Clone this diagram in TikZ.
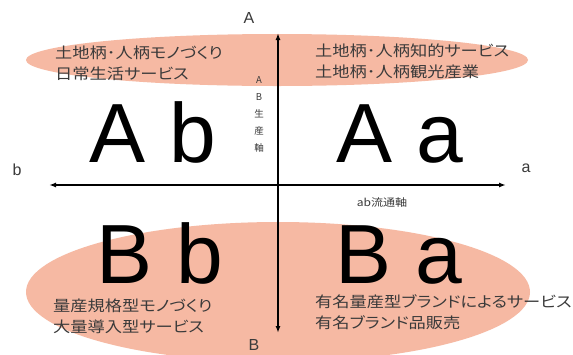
\documentclass[tikz,border=0pt]{standalone}
\usepackage{fontspec}
\setmainfont{Liberation Sans}
\newfontfamily\jp[FakeStretch=1.15, RawFeature=+palt]{Noto Sans CJK JP}
\newfontfamily\jpn{Noto Sans CJK JP}
\usetikzlibrary{arrows.meta}
\definecolor{salmon}{HTML}{F6B9A3}
\definecolor{txt}{HTML}{3A3A3A}
\tikzset{
  blob/.style={fill=salmon, draw=none},
  axis/.style={line width=1.8pt, -{Latex[length=7pt,width=5pt]}, draw=black},
  big/.style={font=\fontsize{84}{84}\selectfont, text=black, inner sep=0pt, anchor=base, text height=60pt, text depth=0pt},
  axlabel/.style={font=\fontsize{16}{16}\selectfont, text=txt, inner sep=0pt},
  jptext/.style={font=\jp\fontsize{15}{21}\selectfont, text=txt, align=left, anchor=west, inner sep=0pt},
  small/.style={font=\jpn\fontsize{9.5}{17}\selectfont, text=txt, inner sep=0pt, align=center},
  smallh/.style={font=\jp\fontsize{10.5}{12}\selectfont, text=txt, inner sep=0pt}
}
\begin{document}
\begin{tikzpicture}[x=1pt,y=-1pt]
\useasboundingbox (0,0) rectangle (573,354);
\fill[white] (0,0) rectangle (573,354);
% blobs
\fill[blob] (277,60) ellipse [x radius=251, y radius=26];
\fill[blob] (278,292) ellipse [x radius=252, y radius=70];
% axes
\coordinate (o) at (278,185);
\coordinate (top) at (278,33);
\coordinate (bot) at (278,333);
\coordinate (lft) at (49,185);
\coordinate (rgt) at (506,185);
\draw[axis] (o) -- (top);
\draw[axis] (o) -- (bot);
\draw[axis] (o) -- (lft);
\draw[axis] (o) -- (rgt);
% axis labels
\node[axlabel] (lA) at (249,18) {A};
\node[axlabel] (lB) at (254,345) {B};
\node[axlabel] (lb) at (17,170) {b};
\node[axlabel] (la) at (526,168) {a};
\node[small] (ab) at (259,114) {A\\B\\生\\産\\軸};
\node[smallh] (ba) at (382,203) {ab流通軸};
% big quadrant labels
\node[big] (Ab) at (153,162) {A b};
\node[big] (Aa) at (400,162) {A a};
\node[big] (Bb) at (160,283) {B b};
\node[big] (Ba) at (399,283) {B a};
% Japanese descriptions
\node[jptext] (t1) at (55,63) {土地柄･人柄モノづくり\\日常生活サービス};
\node[jptext] (t2) at (315,61.5) {土地柄･人柄知的サービス\\土地柄･人柄観光産業};
\node[jptext] (t3) at (53,316) {量産規格型モノづくり\\大量導入型サービス};
\node[jptext] (t4) at (315,312.5) {有名量産型ブランドによるサービス\\有名ブランド品販売};
\end{tikzpicture}
\end{document}
